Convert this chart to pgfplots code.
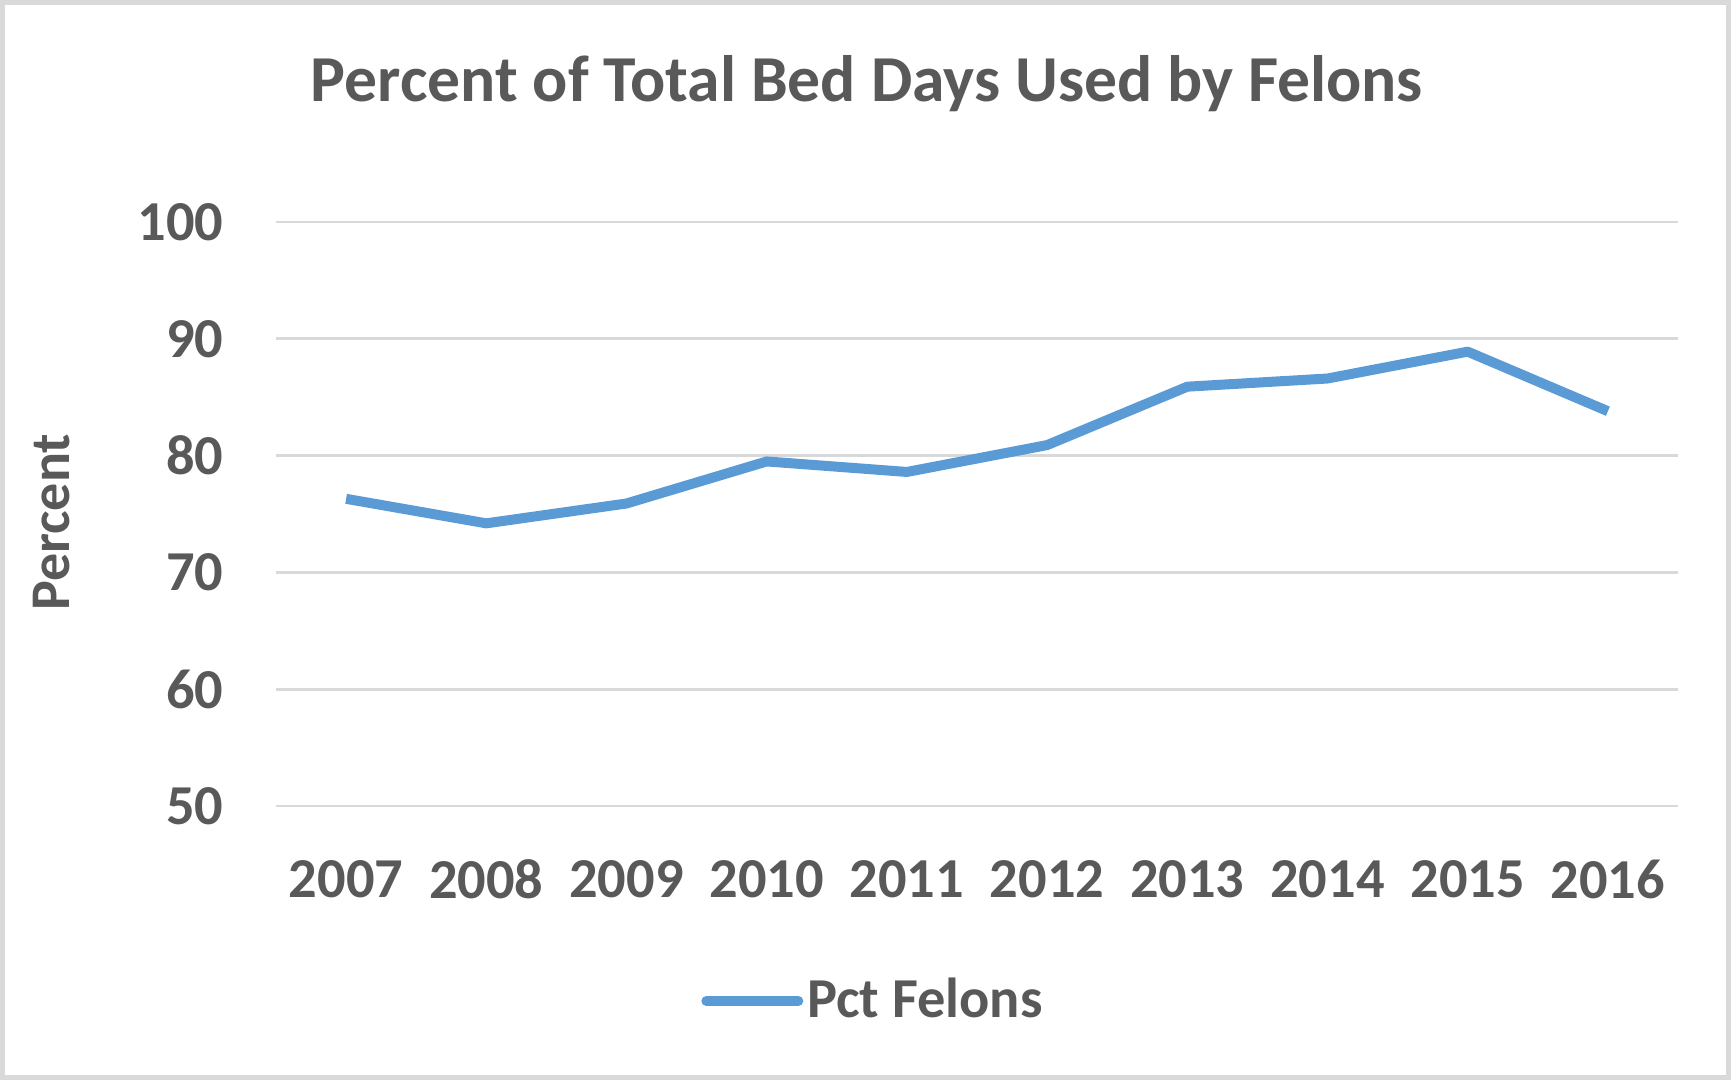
\documentclass[border=0pt]{standalone}
\usepackage{fontspec}
\setmainfont{Carlito}
\usepackage{pgfplots}
\pgfplotsset{compat=1.18}
\definecolor{txt}{HTML}{595959}
\definecolor{gridc}{HTML}{D9D9D9}
\definecolor{blueline}{HTML}{5B9BD5}
\begin{document}
\begin{tikzpicture}
\useasboundingbox (0,0) rectangle (433.5pt,270pt);
\draw[gridc, line width=1.2pt] (0.6pt,0.6pt) rectangle (432.2pt,269.4pt);
\begin{axis}[
  at={(69pt,68.5pt)}, anchor=south west,
  scale only axis, width=350.5pt, height=146pt,
  xmin=-0.5, xmax=9.5, ymin=50, ymax=100,
  xtick={0,...,9},
  xticklabels={2007,2008,2009,2010,2011,2012,2013,2014,2015,2016},
  ytick={50,60,70,80,90,100},
  ymajorgrids, grid style={gridc, line width=0.7pt},
  axis line style={draw=none},
  major tick length=0pt,
  /pgf/number format/assume math mode=true,
  ticklabel style={font=\fontsize{14.1}{16}\selectfont\bfseries, text=txt, inner sep=0pt},
  yticklabel style={anchor=east, xshift=-13pt},
  xticklabel style={anchor=center, yshift=-18.25pt},
  title={Percent of Total Bed Days Used by Felons},
  title style={at={(axis description cs:0.4215,1.196)}, anchor=center, font=\fontsize{16.4}{19}\selectfont\bfseries, text=txt, inner sep=0pt},
  ylabel={Percent},
  ylabel style={at={(axis description cs:-0.1598,0.486)}, anchor=center, font=\fontsize{14}{16}\selectfont\bfseries, text=txt, inner sep=0pt},
  legend style={at={(axis description cs:0.4265,-0.334)}, anchor=center, draw=none, fill=none, font=\fontsize{14.1}{16}\selectfont\bfseries, text=txt, inner sep=0pt, nodes={inner sep=1pt}, /tikz/every even column/.append style={column sep=0pt}},
  legend cell align=left,
  legend image code/.code={\draw[#1, line cap=round] (0pt,0pt) -- (23pt,0pt);},
]
\addplot[blueline, line width=2.5pt, line join=round] coordinates {
(0,76.3) (1,74.2) (2,75.9) (3,79.5) (4,78.6) (5,80.9) (6,85.9) (7,86.6) (8,88.9) (9,83.8)
};
\addlegendentry{Pct Felons}
\end{axis}
\end{tikzpicture}
\end{document}
